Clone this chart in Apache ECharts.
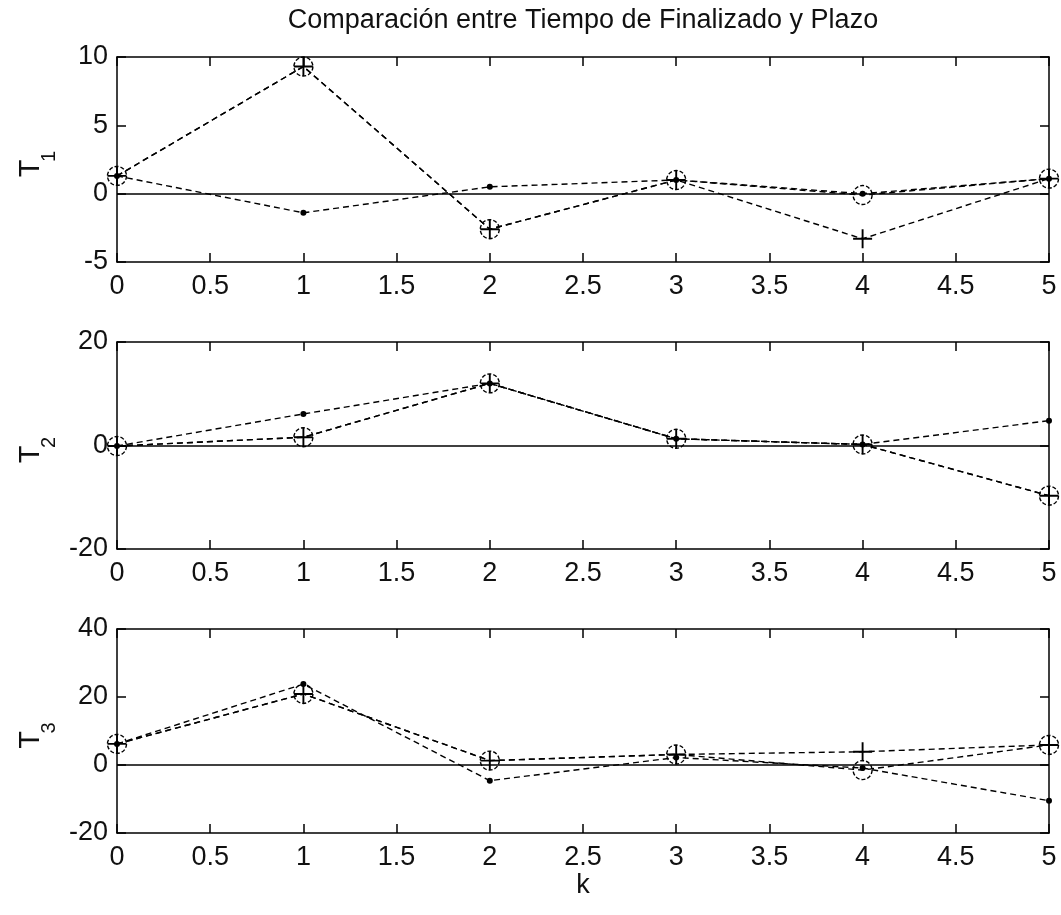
<!DOCTYPE html>
<html>
<head>
<meta charset="utf-8">
<title>Comparación entre Tiempo de Finalizado y Plazo</title>
<script src="https://cdn.jsdelivr.net/npm/echarts@6/dist/echarts.min.js"></script>
<style>
	html, body { margin: 0; padding: 0; background: #fff; }
	#container { width: 1061px; height: 915px; }
</style>
</head>
<body>
<div id="container"></div>
<script>
// eje k
var k = [0, 1, 2, 3, 4, 5];

// T1
var t1Circulo = [1.3, 9.3, -2.6, 1.0, -0.1, 1.1];
var t1Cruz = [1.3, 9.3, -2.6, 1.0, -3.3, 1.1];
var t1Punto = [1.3, -1.4, 0.5, 1.0, 0.0, 1.1];
// T2
var t2Circulo = [-0.1, 1.6, 12.0, 1.3, 0.2, -9.7];
var t2Cruz = [-0.1, 1.6, 12.0, 1.3, 0.2, -9.7];
var t2Punto = [-0.1, 6.1, 12.0, 1.3, 0.2, 4.8];
// T3
var t3Circulo = [6.2, 20.9, 1.3, 3.1, -1.5, 5.9];
var t3Cruz = [6.2, 20.9, 1.3, 3.1, 3.9, 5.9];
var t3Punto = [6.2, 23.8, -4.6, 2.2, -0.9, -10.5];

// rangos de los ejes y
var yMin = [-5, -20, -20];
var yMax = [10, 20, 40];
var yPaso = [5, 20, 20];
var nombres = ['1', '2', '3'];

var dom = document.getElementById("container");
var myChart = echarts.init(dom, null, { renderer: 'canvas' });

var fuente = 'Liberation Sans, Arial, sans-serif';
var negro = '#000';
var grids = [
	{ left: 117, top: 57, width: 932, height: 205 },
	{ left: 117, top: 342, width: 932, height: 207 },
	{ left: 117, top: 629, width: 932, height: 204 }
];

var cruz = 'path://M-1,-10H1V-1H10V1H1V10H-1V1H-10V-1H-1Z';

function pares(ys) {
	return k.map(function(x, i) { return [x, ys[i]]; });
}

var xAxis = [], yAxis = [], series = [], graphic = [];
var datos = [
	[t1Circulo, t1Cruz, t1Punto],
	[t2Circulo, t2Cruz, t2Punto],
	[t3Circulo, t3Cruz, t3Punto]
];

grids.forEach(function(g, i) {
	var linea = { show: true, onZero: false, lineStyle: { color: negro, width: 1.5 } };
	var tick = { show: true, inside: true, length: 9, lineStyle: { color: negro, width: 1.5 } };
	var etiqueta = { color: '#111', fontSize: 27, fontFamily: fuente };
	// abajo
	xAxis.push({
		gridIndex: i, type: 'value', min: 0, max: 5, interval: 0.5,
		axisLine: linea, axisTick: tick, splitLine: { show: false },
		axisLabel: Object.assign({ margin: 11 }, etiqueta),
		name: i === 2 ? 'k' : '', nameLocation: 'middle', nameGap: 36,
		nameTextStyle: { color: '#111', fontSize: 27, fontFamily: fuente }
	});
	// arriba
	xAxis.push({
		gridIndex: i, type: 'value', min: 0, max: 5, interval: 0.5, position: 'top',
		axisLine: linea, axisTick: tick, splitLine: { show: false }, axisLabel: { show: false }
	});
	// izquierda
	yAxis.push({
		gridIndex: i, type: 'value', min: yMin[i], max: yMax[i], interval: yPaso[i],
		axisLine: linea, axisTick: tick, splitLine: { show: false },
		axisLabel: Object.assign({ margin: 9 }, etiqueta)
	});
	// derecha
	yAxis.push({
		gridIndex: i, type: 'value', min: yMin[i], max: yMax[i], interval: yPaso[i], position: 'right',
		axisLine: linea, axisTick: tick, splitLine: { show: false }, axisLabel: { show: false }
	});

	var base = {
		type: 'line', xAxisIndex: 2 * i, yAxisIndex: 2 * i,
		lineStyle: { color: negro, width: 1.4, type: [6, 4] },
		emphasis: { disabled: true }, silent: true
	};
	series.push(Object.assign({}, base, {
		data: pares(datos[i][0]),
		symbol: 'circle', symbolSize: 19,
		itemStyle: { color: 'transparent', borderColor: negro, borderWidth: 1.4, borderType: [4, 2] },
		markLine: {
			silent: true, symbol: ['none', 'none'], label: { show: false },
			lineStyle: { color: negro, width: 1.5, type: 'solid' },
			data: [{ yAxis: 0 }]
		}
	}));
	series.push(Object.assign({}, base, {
		data: pares(datos[i][1]),
		symbol: cruz, symbolSize: 19,
		itemStyle: { color: negro, borderWidth: 0 }
	}));
	series.push(Object.assign({}, base, {
		data: pares(datos[i][2]),
		symbol: 'circle', symbolSize: 6,
		itemStyle: { color: negro, borderWidth: 0 }
	}));

	// etiqueta T con subindice
	var centro = g.top + g.height / 2;
	graphic.push({
		type: 'text', x: 30.5, y: centro + 9, rotation: Math.PI / 2,
		style: { text: 'T', fontSize: 29, fontFamily: fuente, fill: '#111', textAlign: 'center', textVerticalAlign: 'middle' }
	});
	graphic.push({
		type: 'text', x: 49, y: centro - 3, rotation: Math.PI / 2,
		style: { text: nombres[i], fontSize: 20, fontFamily: fuente, fill: '#111', textAlign: 'center', textVerticalAlign: 'middle' }
	});
});

var option = {
	backgroundColor: '#fff',
	animation: false,
	title: {
		text: 'Comparación entre Tiempo de Finalizado y Plazo',
		left: 583, top: 7, textAlign: 'center', padding: 0,
		textStyle: { color: '#111', fontSize: 27, fontWeight: 'normal', fontFamily: fuente }
	},
	grid: grids,
	xAxis: xAxis,
	yAxis: yAxis,
	series: series,
	graphic: graphic
};
myChart.setOption(option, true);
</script>
</body>
</html>
